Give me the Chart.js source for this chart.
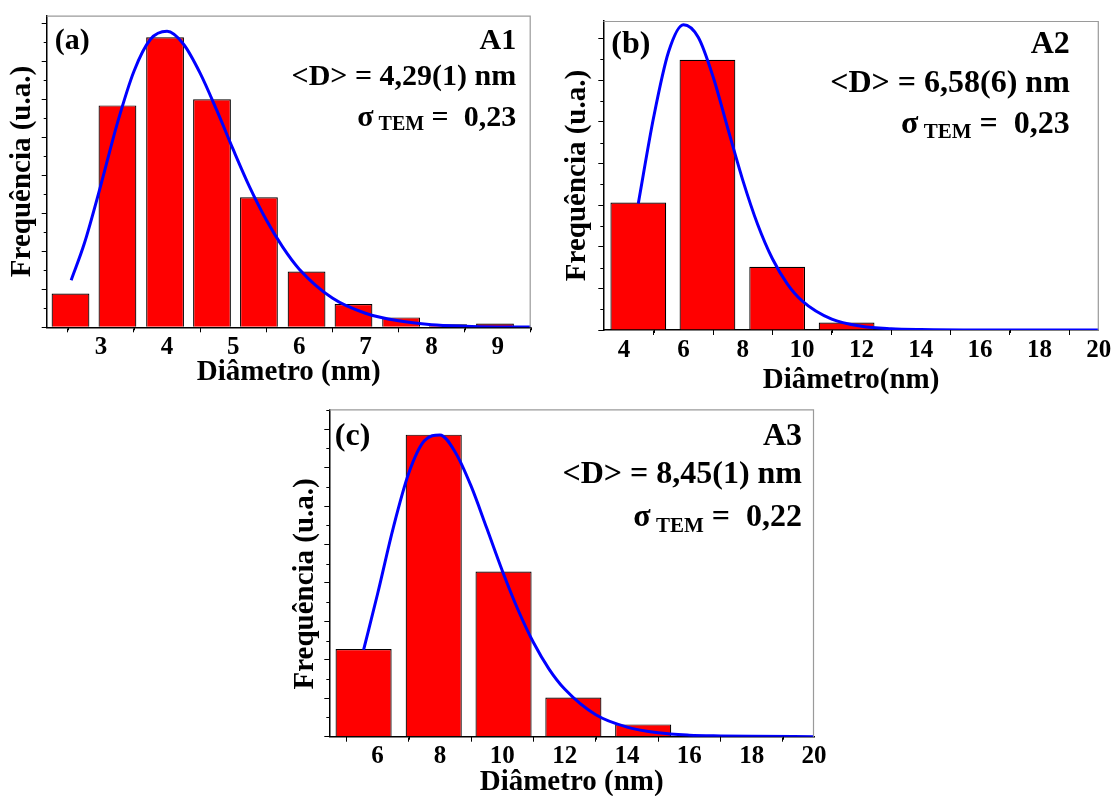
<!DOCTYPE html>
<html>
<head>
<meta charset="utf-8">
<script src="https://cdn.jsdelivr.net/npm/chart.js@4.4.1/dist/chart.umd.min.js"></script>
<style>
  html, body { margin: 0; padding: 0; background: #fff; overflow: hidden; }
  body { width: 1113px; height: 796px; position: relative; }
  .panel { position: absolute; }
</style>
</head>
<body>
<div class="panel" style="left:0px;top:0px"><canvas id="chart-a" width="545" height="395"></canvas></div>
<div class="panel" style="left:560px;top:0px"><canvas id="chart-b" width="553" height="400"></canvas></div>
<div class="panel" style="left:290px;top:400px"><canvas id="chart-c" width="540" height="400"></canvas></div>
<script>
// histogram bins (bar centres, nm) and heights (arbitrary units)
var binsA = [2.54, 3.25, 3.97, 4.68, 5.39, 6.11, 6.82, 7.54, 8.25, 8.96];
var countsA = [8.9, 58.4, 76.3, 60.0, 34.2, 14.7, 6.1, 2.6, 0.8, 1.0];
var fitXA = [2.55, 2.75, 3.0, 3.25, 3.5, 3.75, 4.0, 4.25, 4.5, 4.75, 5.0, 5.25, 5.5, 5.75, 6.0, 6.5, 7.0, 7.5, 8.0, 8.5, 9.0, 9.5];
var fitYA = [12.4, 22.1, 37.5, 53.8, 67.4, 75.8, 77.9, 74.5, 66.9, 57.2, 46.8, 36.9, 28.3, 21.1, 15.3, 7.7, 3.7, 1.7, 0.7, 0.3, 0.1, 0.05];

var binsB = [4.48, 6.81, 9.16, 11.50];
var countsB = [30.6, 64.9, 15.2, 1.8];
var fitXB = [4.48, 5.0, 5.5, 6.0, 6.5, 7.0, 7.5, 8.0, 8.5, 9.0, 9.5, 10, 11, 12, 13, 14, 16, 18, 20];
var fitYB = [30.4, 51.2, 66.8, 73.3, 70.3, 60.8, 48.3, 36.0, 25.4, 17.1, 11.1, 7.0, 2.6, 0.9, 0.3, 0.1, 0.0, 0.0, 0.0];

var binsC = [5.55, 7.80, 10.04, 12.28, 14.52];
var countsC = [22.8, 78.6, 43.0, 10.2, 3.2];
var fitXC = [5.55, 6.0, 6.5, 7.0, 7.5, 8.0, 8.5, 9.0, 9.5, 10.0, 10.5, 11.0, 11.5, 12.0, 13.0, 14.0, 15.0, 16.0, 17.0, 18.0, 20.0];
var fitYC = [22.6, 37.2, 54.3, 68.6, 77.0, 78.5, 73.9, 65.2, 54.3, 43.2, 33.1, 24.5, 17.6, 12.4, 5.7, 2.5, 1.0, 0.4, 0.2, 0.1, 0.0];

// annotation texts
var tagsText = ['(a)', '(b)', '(c)'];
var sampleText = ['A1', 'A2', 'A3'];
var meanText = ['<D> = 4,29(1) nm', '<D> = 6,58(6) nm', '<D> = 8,45(1) nm'];
var sigmaText = ['0,23', '0,23', '0,22'];
var xTitles = ['Diâmetro (nm)', 'Diâmetro(nm)', 'Diâmetro (nm)'];
var yTitle = 'Frequência (u.a.)';

var FONT = '"Liberation Serif", "Times New Roman", serif';

function pairs(xs, ys) {
    return xs.map(function (x, i) { return { x: x, y: ys[i] }; });
}

// top/right grey frame + minor ticks
var framePlugin = {
    id: 'frame',
    afterDraw: function (chart, args, o) {
        var ctx = chart.ctx, a = chart.chartArea;
        var sx = chart.scales.x, sy = chart.scales.y;
        ctx.save();
        ctx.strokeStyle = '#9a9a9a';
        ctx.lineWidth = 1.2;
        ctx.beginPath();
        ctx.moveTo(a.left, a.top + 0.5);
        ctx.lineTo(a.right - 0.5, a.top + 0.5);
        ctx.lineTo(a.right - 0.5, a.bottom);
        ctx.stroke();

        ctx.strokeStyle = '#000';
        ctx.lineWidth = 1;
        ctx.beginPath();
        for (var v = o.xMinorStart; v <= sx.max + 1e-6; v += o.xMinorStep) {
            var px = Math.round(sx.getPixelForValue(v)) + 0.5;
            ctx.moveTo(px, a.bottom);
            ctx.lineTo(px, a.bottom + 3);
        }
        for (var w = o.yMinorStep; w <= sy.max + 1e-6; w += o.yMinorStep * 2) {
            var py = Math.round(sy.getPixelForValue(w)) + 0.5;
            ctx.moveTo(a.left, py);
            ctx.lineTo(a.left - 3, py);
        }
        ctx.stroke();
        ctx.restore();
    }
};

// panel label and fit results written inside the plot
var notesPlugin = {
    id: 'notes',
    afterDraw: function (chart, args, o) {
        var ctx = chart.ctx, a = chart.chartArea;
        var main = 'bold ' + o.size + 'px ' + FONT;
        var sub = 'bold ' + o.sub + 'px ' + FONT;
        var rx = a.right - o.right;
        ctx.save();
        ctx.fillStyle = '#000';
        ctx.textBaseline = 'alphabetic';
        ctx.font = main;
        ctx.textAlign = 'left';
        ctx.fillText(o.tag, a.left + o.tagX, a.top + o.rows[0]);
        ctx.textAlign = 'right';
        ctx.fillText(o.sample, rx, a.top + o.rows[0]);
        ctx.fillText(o.mean, rx, a.top + o.rows[1]);

        var tail = ' =  ' + o.sigma;
        ctx.textAlign = 'left';
        var wTail = ctx.measureText(tail).width;
        var wSig = ctx.measureText('\u03c3').width;
        ctx.font = sub;
        var wSub = ctx.measureText(' TEM').width;
        var x = rx - wTail - wSub - wSig;
        var y = a.top + o.rows[2];
        ctx.font = main;
        ctx.fillText('\u03c3', x, y);
        ctx.font = sub;
        ctx.fillText(' TEM', x + wSig, y + o.drop);
        ctx.font = main;
        ctx.fillText(tail, x + wSig + wSub, y);
        ctx.restore();
    }
};

function makeChart(id, p) {
    var ctx = document.getElementById(id).getContext('2d');
    return new Chart(ctx, {
        type: 'bar',
        data: {
            datasets: [{
                type: 'line',
                label: 'ajuste',
                data: pairs(p.fitX, p.fitY),
                borderColor: '#0000ff',
                borderWidth: 3,
                pointRadius: 0,
                cubicInterpolationMode: 'monotone',
                order: 0
            }, {
                type: 'bar',
                label: 'histograma',
                data: pairs(p.bins, p.counts),
                backgroundColor: '#ff0000',
                borderColor: '#000000',
                borderWidth: 1.2,
                barPercentage: p.barPct,
                categoryPercentage: 1,
                order: 1
            }]
        },
        options: {
            responsive: false,
            animation: false,
            layout: { padding: { top: p.padTop, right: p.padRight, left: 0, bottom: 0 } },
            plugins: {
                legend: { display: false },
                tooltip: { enabled: false },
                frame: { xMinorStart: p.xMinorStart, xMinorStep: p.xMinorStep, yMinorStep: 5 },
                notes: {
                    tag: p.tag, sample: p.sample, mean: p.mean, sigma: p.sigma,
                    size: p.noteSize, sub: p.subSize, tagX: p.tagX, right: p.right,
                    rows: p.rows, drop: p.drop
                }
            },
            scales: {
                x: {
                    type: 'linear',
                    offset: false,
                    min: p.xMin, max: p.xMax,
                    afterFit: function (s) { s.height = p.xHeight; },
                    grid: { display: true, drawOnChartArea: false, drawTicks: true, tickLength: 5, tickColor: '#000', tickWidth: 1 },
                    border: { display: true, color: '#000', width: 1.5 },
                    ticks: {
                        stepSize: p.xStep, includeBounds: false, padding: p.tickPad,
                        color: '#000', maxRotation: 0, autoSkip: false,
                        font: { family: FONT, size: 25, weight: 'bold' }
                    },
                    title: {
                        display: true, text: p.xTitle, color: '#000',
                        padding: { top: 0, bottom: p.titlePad },
                        font: { family: FONT, size: 29, weight: 'bold' }
                    }
                },
                y: {
                    type: 'linear',
                    min: 0, max: p.yMax,
                    afterFit: function (s) { s.width = p.yWidth; },
                    grid: { display: true, drawOnChartArea: false, drawTicks: true, tickLength: 5, tickColor: '#000', tickWidth: 1 },
                    border: { display: true, color: '#000', width: 1.5 },
                    ticks: { display: false, stepSize: 10, includeBounds: false },
                    title: {
                        display: true, text: p.yTitle, color: '#000',
                        padding: { top: p.yTitlePad, bottom: 0 },
                        font: { family: FONT, size: 29, weight: 'bold', lineHeight: 1 }
                    }
                }
            }
        },
        plugins: [framePlugin, notesPlugin]
    });
}

makeChart('chart-a', {
    bins: binsA, counts: countsA, fitX: fitXA, fitY: fitYA, barPct: 0.805,
    xMin: 2.18, xMax: 9.5, xStep: 1, xMinorStart: 2.5, xMinorStep: 1, yMax: 82,
    padTop: 15.7, padRight: 14.3, yWidth: 46.7, xHeight: 67.7, tickPad: 0, titlePad: 4.6, yTitlePad: 8,
    xTitle: xTitles[0], yTitle: yTitle,
    tag: tagsText[0], sample: sampleText[0], mean: meanText[0], sigma: sigmaText[0],
    noteSize: 30, subSize: 20, tagX: 8, right: 14.5, rows: [33.6, 69.3, 110.3], drop: 4
});

makeChart('chart-b', {
    bins: binsB, counts: countsB, fitX: fitXB, fitY: fitYB, barPct: 0.94,
    xMin: 3.3, xMax: 20, xStep: 2, xMinorStart: 5, xMinorStep: 2, yMax: 74.2,
    padTop: 21, padRight: 14.2, yWidth: 43.3, xHeight: 70, tickPad: 1, titlePad: 1.6, yTitlePad: 3,
    xTitle: xTitles[1], yTitle: yTitle,
    tag: tagsText[1], sample: sampleText[1], mean: meanText[1], sigma: sigmaText[1],
    noteSize: 32, subSize: 21, tagX: 8, right: 29, rows: [32.3, 70.7, 112.3], drop: 5
});

makeChart('chart-c', {
    bins: binsC, counts: countsC, fitX: fitXC, fitY: fitYC, barPct: 0.9,
    xMin: 4.45, xMax: 20, xStep: 2, xMinorStart: 5, xMinorStep: 2, yMax: 85.2,
    padTop: 9.3, padRight: 16, yWidth: 39.3, xHeight: 63.3, tickPad: 0, titlePad: 0, yTitlePad: 1.3,
    xTitle: xTitles[2], yTitle: yTitle + '\u00a0\u00a0\u00a0',
    tag: tagsText[2], sample: sampleText[2], mean: meanText[2], sigma: sigmaText[2],
    noteSize: 32, subSize: 21, tagX: 5.5, right: 12, rows: [35.7, 74, 116.7], drop: 5.7
});
</script>
</body>
</html>
